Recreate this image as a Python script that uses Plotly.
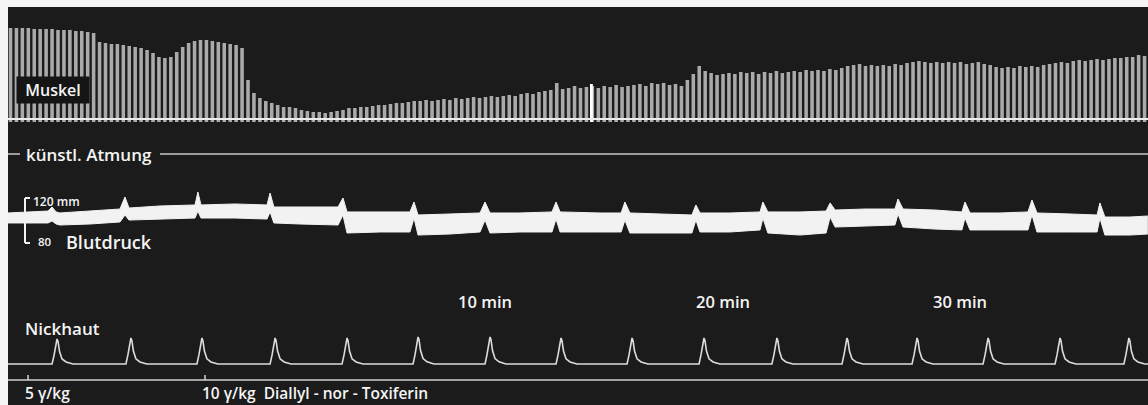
import plotly.graph_objects as go

# ---------------- data ----------------
# time axis: minutes (0 = reference, 10/20/30 min marks)
X_RANGE = [-10.105, 37.895]

# Muscle twitches (one value every 0.25 min starting at -10 min), amplitude in mm
muscle_first_t = -10.0
muscle_step = 0.25
muscle_amp = [
    91, 91, 91, 91, 90, 90, 90, 90, 89, 89, 89, 88, 88, 87, 86,
    77, 76, 75, 75, 74, 73, 72, 71, 69, 66, 62, 61, 62, 67, 72, 76, 78, 79, 79, 78, 77, 76, 75, 74, 71,
    39, 26, 21, 18, 16, 14, 12, 12, 11, 9, 8, 7, 7, 6, 7, 8, 9, 11, 11, 12,
    12, 13, 14, 14, 15, 16, 16, 17, 18, 18,
    19, 18, 19, 20, 19, 21, 20, 21, 22, 21, 22, 23, 22, 23, 24, 23, 25, 26, 25, 27,
    28, 29, 36, 30, 31, 33, 31, 32, 33, 31,
    33, 32, 34, 32, 33, 34, 35, 33, 36, 35, 36, 34, 35, 33, 39, 45, 53, 48, 46, 44,
    45, 46, 45, 47, 46, 47, 45, 47, 46, 48,
    46, 47, 48, 47, 49, 48, 49, 48, 50, 49, 51, 53, 54, 55, 53, 54, 53, 54, 53, 55,
    54, 56, 57, 58, 57, 56, 57, 56, 57, 56,
    57, 55, 56, 57, 55, 54, 52, 51, 52, 51, 53, 52, 53, 52, 54, 55, 56, 57, 56, 58,
    59, 58, 59, 60, 59, 60, 61, 61, 62, 62, 64, 63,
]
marker_t = [14.48]
marker_amp = [35]

# Blood pressure band (mmHg): upper / lower edge of the pulse band
bp_t = [-10.11, -9.18, -8.42, -8.25, -8.08, -7.92, -6.65, -5.39, -5.18, -5.01,
        -3.71, -2.23, -2.11, -1.98, -0.55, 0.80, 0.93, 1.09, 2.19, 3.79,
        4.00, 4.17, 5.56, 6.82, 6.99, 7.16, 8.51, 9.77, 9.98, 10.19,
        11.45, 12.80, 12.97, 13.14, 14.82, 15.71, 15.87, 16.08, 17.35, 18.69,
        18.86, 19.03, 20.29, 21.56, 21.68, 21.89, 23.24, 24.34, 24.51, 24.72,
        25.98, 27.24, 27.37, 27.58, 28.93, 30.06, 30.19, 30.40, 31.66, 32.84,
        33.01, 33.22, 34.61, 35.75, 35.87, 36.08, 37.14, 37.89]
bp_upper = [106.7, 107.6, 108.4, 112.0, 107.6, 106.7, 108.4, 110.2, 120.9, 111.1,
            112.9, 113.8, 125.3, 113.8, 114.7, 113.8, 124.4, 112.0, 112.0, 112.0,
            120.0, 107.6, 107.6, 107.6, 116.4, 104.9, 105.8, 106.7, 116.4, 106.7,
            106.7, 107.6, 116.4, 107.6, 106.7, 106.7, 116.4, 106.7, 105.8, 104.9,
            113.8, 106.7, 106.7, 107.6, 116.4, 107.6, 107.6, 108.4, 115.6, 109.3,
            110.2, 110.2, 119.1, 110.2, 109.3, 107.6, 116.4, 106.7, 106.7, 107.6,
            118.2, 106.7, 105.8, 104.9, 115.6, 103.1, 103.1, 104.0]
bp_lower = [97.8, 97.8, 97.8, 99.6, 96.9, 96.0, 96.9, 98.7, 104.9, 100.4,
            101.3, 102.2, 108.4, 102.2, 102.2, 101.3, 107.6, 97.8, 96.9, 96.0,
            104.9, 88.9, 89.8, 89.8, 102.2, 87.1, 88.0, 89.8, 100.4, 88.9,
            89.8, 89.8, 101.3, 89.8, 89.8, 89.8, 100.4, 88.9, 88.9, 88.9,
            100.4, 89.8, 89.8, 91.6, 102.2, 88.9, 87.1, 88.9, 103.1, 94.2,
            95.1, 96.0, 105.8, 94.2, 92.4, 91.6, 102.2, 91.6, 91.6, 91.6,
            104.9, 89.8, 89.8, 89.8, 102.2, 87.1, 87.1, 88.0]

# Nictitating membrane contractions (every ~3 min), amplitude in mm
nick_peak_t = [-8.04, -4.93, -1.94, 1.14, 4.17, 7.16, 10.19, 13.18,
               16.17, 19.20, 22.27, 25.22, 28.17, 31.16, 34.19, 37.09]
nick_peak_amp = [25, 26, 26, 26, 26, 27, 27, 26, 26, 26, 26, 26, 26, 26, 26, 26]
# shape of a single contraction (offset in min, fraction of peak)
nick_shape_dt = [-0.21, -0.126, -0.042, 0.0, 0.042, 0.105, 0.21, 0.38, 0.67]
nick_shape_rel = [0.0, 0.35, 0.9, 1.0, 0.9, 0.5, 0.2, 0.08, 0.0]

# injections (min)
inject_t = [-9.26, -1.81]
time_marks = [10, 20, 30]

# ---------------- figure ----------------
W, H = 1148, 405
ML, MT = 8, 7
PH = H - MT

def fy(px):
    return (H - px) / PH

def fx(px):
    return (px - ML) / (W - ML)

DARK = "#1b1b1b"
LIGHT = "#f2f2f2"
FONT = "Open Sans"

fig = go.Figure()

muscle_t = [muscle_first_t + muscle_step * i for i in range(len(muscle_amp))]
BASE = -3
fig.add_trace(go.Bar(x=muscle_t, y=[a - BASE for a in muscle_amp], base=BASE,
                     width=0.15, marker=dict(color="#aaaaaa", line=dict(width=0)),
                     xaxis="x", yaxis="y", hoverinfo="skip"))
fig.add_trace(go.Bar(x=marker_t, y=[a - BASE for a in marker_amp], base=BASE,
                     width=0.08, marker=dict(color="#ffffff", line=dict(width=0)),
                     xaxis="x", yaxis="y", hoverinfo="skip"))

fig.add_trace(go.Scatter(x=bp_t, y=bp_lower, mode="lines",
                         line=dict(color=LIGHT, width=1), xaxis="x", yaxis="y2",
                         hoverinfo="skip"))
fig.add_trace(go.Scatter(x=bp_t, y=bp_upper, mode="lines", fill="tonexty",
                         fillcolor=LIGHT, line=dict(color=LIGHT, width=1),
                         xaxis="x", yaxis="y2", hoverinfo="skip"))

nx, ny = [X_RANGE[0]], [0.0]
for tp, ap in zip(nick_peak_t, nick_peak_amp):
    for dt, r in zip(nick_shape_dt, nick_shape_rel):
        nx.append(tp + dt)
        ny.append(ap * r)
nx.append(X_RANGE[1]); ny.append(0.0)
fig.add_trace(go.Scatter(x=nx, y=ny, mode="lines",
                         line=dict(color="#dcdcdc", width=1.6),
                         xaxis="x", yaxis="y3", hoverinfo="skip"))

shapes = [
    dict(type="rect", xref="paper", yref="paper", x0=0, x1=1, y0=0, y1=1,
         fillcolor=DARK, line=dict(width=0), layer="below"),
    # muscle baseline
    dict(type="line", xref="paper", yref="y", x0=0, x1=1, y0=0, y1=0,
         line=dict(color="#ececec", width=2)),
    # artificial respiration line
    dict(type="line", xref="paper", yref="paper", x0=0, x1=fx(20), y0=fy(154), y1=fy(154),
         line=dict(color="#c8c8c8", width=1.5)),
    dict(type="line", xref="paper", yref="paper", x0=fx(160), x1=1, y0=fy(154), y1=fy(154),
         line=dict(color="#c8c8c8", width=1.5)),
    # blood pressure scale bracket 80-120
    dict(type="line", xref="paper", yref="y2", x0=fx(25), x1=fx(25), y0=80, y1=120,
         line=dict(color=LIGHT, width=2)),
    dict(type="line", xref="paper", yref="y2", x0=fx(25), x1=fx(30), y0=120, y1=120,
         line=dict(color=LIGHT, width=2)),
    dict(type="line", xref="paper", yref="y2", x0=fx(25), x1=fx(30), y0=80, y1=80,
         line=dict(color=LIGHT, width=2)),
    # signal line at the bottom
    dict(type="line", xref="paper", yref="paper", x0=0, x1=1, y0=fy(380), y1=fy(380),
         line=dict(color="#d2d2d2", width=1.6)),
]
for ti in inject_t:
    shapes.append(dict(type="line", xref="x", yref="paper", x0=ti, x1=ti,
                       y0=fy(380), y1=fy(375), line=dict(color="#d2d2d2", width=1.5)))

def ann(text, x, y, size, xref="paper", xanchor="center", **kw):
    return dict(text=text, x=x, y=y, xref=xref, yref="paper", showarrow=False,
                xanchor=xanchor, yanchor="middle",
                font=dict(family=FONT, size=size, color="#f4f4f4", weight=600), **kw)

annotations = [
    ann("Muskel", fx(53), fy(90), 16, bgcolor="#151515", width=70, height=24),
    ann("künstl. Atmung", fx(89), fy(155), 17),
    ann("120 mm", fx(56), fy(201), 12),
    ann("80", fx(45), fy(242), 11.5),
    ann("Blutdruck", fx(109), fy(242), 18),
    ann("Nickhaut", fx(62), fy(328), 17),
    ann("5 γ/kg", fx(23), fy(393), 15.5, xanchor="left"),
    ann("10 γ/kg  Diallyl - nor - Toxiferin", fx(200), fy(393), 15.5, xanchor="left"),
]
for tm in time_marks:
    annotations.append(ann(f"{tm} min", tm, fy(301), 16.5, xref="x"))

fig.update_layout(
    width=W, height=H,
    margin=dict(l=ML, r=0, t=MT, b=0, pad=0),
    paper_bgcolor="#f5f5f5", plot_bgcolor="rgba(0,0,0,0)",
    showlegend=False, barmode="overlay",
    xaxis=dict(range=X_RANGE, domain=[0, 1], visible=False, fixedrange=True),
    yaxis=dict(range=[-4, 112], domain=[fy(123), fy(7)], visible=False, fixedrange=True),
    yaxis2=dict(range=[73.78, 131.56], domain=[fy(250), fy(185)], anchor="x",
                visible=False, fixedrange=True),
    yaxis3=dict(range=[-6, 34], domain=[fy(370), fy(330)], anchor="x",
                visible=False, fixedrange=True),
    shapes=shapes, annotations=annotations,
)

fig.write_html("out.html")
